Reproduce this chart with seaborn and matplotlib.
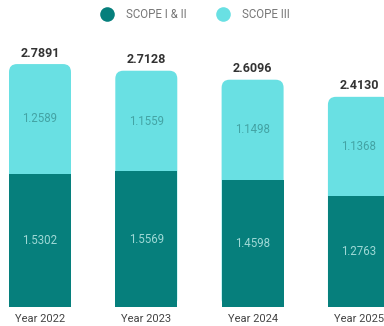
import matplotlib
matplotlib.use("Agg")
import matplotlib.pyplot as plt
from matplotlib.patches import FancyBboxPatch
from matplotlib.lines import Line2D
import pandas as pd
import seaborn as sns

years = ["Year 2022", "Year 2023", "Year 2024", "Year 2025"]
scope_1_2 = [1.5302, 1.5569, 1.4598, 1.2763]
scope_3 = [1.2589, 1.1559, 1.1498, 1.1368]
totals = [2.7891, 2.7128, 2.6096, 2.4130]

DARK = "#067f7c"
LIGHT = "#69e0e3"

df = pd.DataFrame({"year": years, "s12": scope_1_2, "s3": scope_3, "total": totals})

sns.set_theme(style="white")
plt.rcParams["font.family"] = ["Roboto", "DejaVu Sans"]

W, H = 384, 326
fig = plt.figure(figsize=(W / 100, H / 100), dpi=100)
fig.patch.set_facecolor("white")

bottom_px = 19
ax = fig.add_axes([0, bottom_px / H, 1, (H - bottom_px) / H])
ax.set_facecolor("white")

bar_w = 0.583
# full stack height (light), then scope I & II on top of it (dark)
sns.barplot(data=df, x="year", y="total", color=LIGHT, width=bar_w,
            saturation=1, ax=ax, zorder=1, linewidth=0, edgecolor="none")
light_bars = list(ax.patches)
sns.barplot(data=df, x="year", y="s12", color=DARK, width=bar_w,
            saturation=1, ax=ax, zorder=2, linewidth=0, edgecolor="none")

px_per_x = 106.3
px_per_y = 87.1
ax.set_xlim(-40 / px_per_x, (W - 40) / px_per_x)
ax.set_ylim(0, (H - bottom_px) / px_per_y)

# round the top corners of the light segments
radius_px = 8
aspect = px_per_x / px_per_y
for p in light_bars:
    x, y = p.get_x(), p.get_y()
    w, h = p.get_width(), p.get_height()
    p.remove()
    rp = FancyBboxPatch((x, y), w, h,
                        boxstyle=f"round,pad=0,rounding_size={radius_px / px_per_x}",
                        mutation_aspect=aspect, facecolor=LIGHT, edgecolor="none",
                        linewidth=0, zorder=1)
    ax.add_patch(rp)

for i in range(len(years)):
    ax.text(i, scope_1_2[i] / 2, f"{scope_1_2[i]:.4f}", ha="center", va="center",
            fontsize=8.3, color="#9fd9d6", zorder=3)
    ax.text(i, scope_1_2[i] + scope_3[i] / 2, f"{scope_3[i]:.4f}", ha="center",
            va="center", fontsize=8.3, color="#43a3a4", zorder=3)
    ax.text(i, totals[i] + 11 / px_per_y, f"{totals[i]:.4f}", ha="center",
            va="center", fontsize=9, color="#333333", fontweight="bold", zorder=3)

ax.set_xlabel("")
ax.set_ylabel("")
ax.set_yticks([])
ax.tick_params(axis="x", length=0, pad=5, labelsize=8, labelcolor="#444444")
for s in ax.spines.values():
    s.set_visible(False)

handles = [
    Line2D([], [], marker="o", linestyle="none", markersize=10.5,
           markerfacecolor=DARK, markeredgecolor="none", label="SCOPE I & II"),
    Line2D([], [], marker="o", linestyle="none", markersize=10.5,
           markerfacecolor=LIGHT, markeredgecolor="none", label="SCOPE III"),
]
fig.legend(handles=handles, loc="center", bbox_to_anchor=(0.508, 1 - 15 / H),
           ncol=2, frameon=False, fontsize=8.3, labelcolor="#777777",
           handletextpad=1.0, columnspacing=2.6, handlelength=1.2)

fig.savefig("out.png", dpi=100, facecolor="white")
